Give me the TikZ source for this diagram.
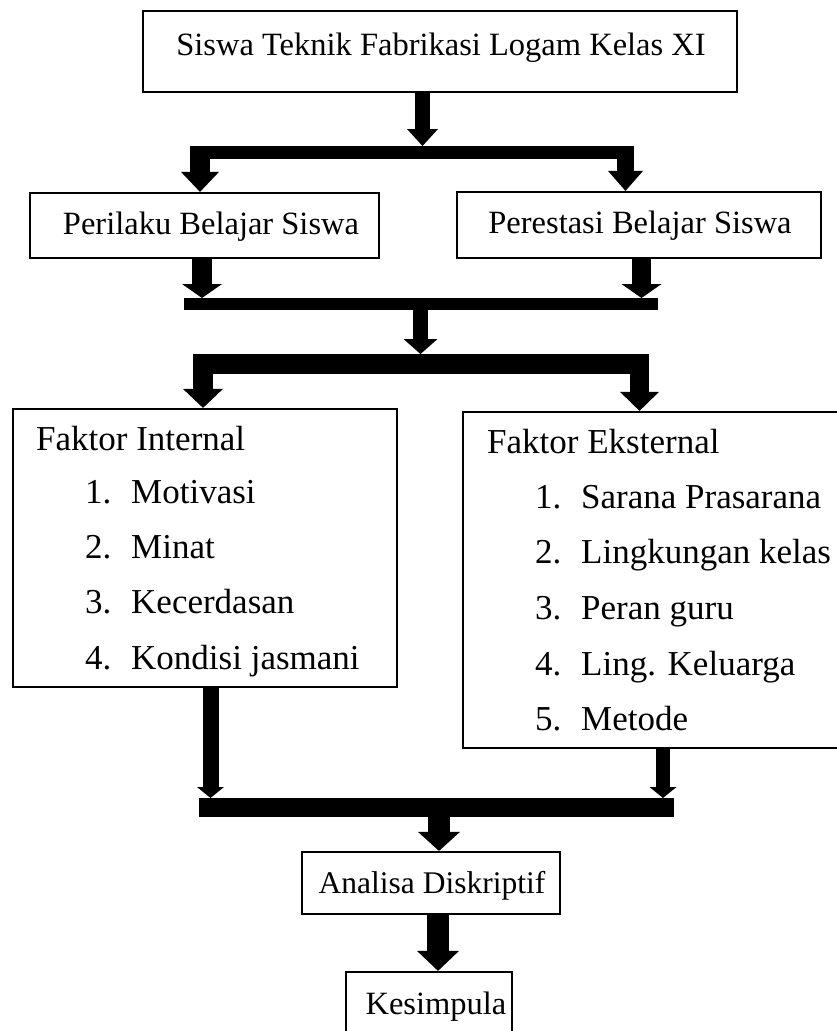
\documentclass[tikz,border=0pt]{standalone}
\usepackage{fontspec}
\setmainfont{Liberation Serif}
\usetikzlibrary{arrows.meta}
\newcommand{\itemnum}[1]{\makebox[46pt][l]{#1}}
\begin{document}
\begin{tikzpicture}[x=1pt,y=-1pt,
  box/.style={draw,line width=2.2pt,inner sep=0pt},
  txt/.style={font=\fontsize{32.5}{39}\selectfont,inner sep=0pt,anchor=base},
  ltxt/.style={font=\fontsize{35}{41}\selectfont,inner sep=0pt,anchor=base west},
  bar/.style={line width=#1},
  arr/.style n args={3}{line width=#1,-{Triangle[width=#2,length=#3,line width=0pt]}}]
\useasboundingbox (0,0) rectangle (836,1031);
% boxes
\node[box,minimum width=594pt,minimum height=81pt] (top) at (440,51.5) {};
\node[txt] (toptxt) at (441,55) {Siswa Teknik Fabrikasi Logam Kelas XI};
\node[box,minimum width=349pt,minimum height=65pt] (pb) at (204.5,225.5) {};
\node[txt] (pbtxt) at (211,234) {Perilaku Belajar Siswa};
\node[box,minimum width=364pt,minimum height=66pt] (ps) at (639,225) {};
\node[txt] (pstxt) at (640,233) {Perestasi Belajar Siswa};
\node[box,minimum width=384pt,minimum height=278pt] (fi) at (205,548) {};
\node[box,minimum width=382pt,minimum height=336pt] (fe) at (654,580) {};
\node[box,minimum width=258pt,minimum height=62pt] (ad) at (431,883) {};
\node[txt,font=\fontsize{31.5}{38}\selectfont] (adtxt) at (432,893) {Analisa Diskriptif};
\node[box,minimum width=166pt,minimum height=80pt] (ks) at (429,1012) {};
\node[txt] (kstxt) at (436,1014) {Kesimpula};
% list texts
\node[ltxt] (fih) at (36,450) {Faktor Internal};
\node[ltxt] (fi1) at (85,503) {\itemnum{1.}Motivasi};
\node[ltxt] (fi2) at (85,558) {\itemnum{2.}Minat};
\node[ltxt] (fi3) at (85,613) {\itemnum{3.}Kecerdasan};
\node[ltxt] (fi4) at (85,669) {\itemnum{4.}Kondisi jasmani};
\node[ltxt] (feh) at (487,453) {Faktor Eksternal};
\node[ltxt] (fe1) at (535,508) {\itemnum{1.}Sarana Prasarana};
\node[ltxt] (fe2) at (535,563) {\itemnum{2.}Lingkungan kelas};
\node[ltxt] (fe3) at (535,619) {\itemnum{3.}Peran guru};
\node[ltxt] (fe4) at (535,675) {\itemnum{4.}Ling. Keluarga};
\node[ltxt] (fe5) at (535,730) {\itemnum{5.}Metode};
% connectors
\coordinate (b1L) at (190,152.5);
\coordinate (b1R) at (634,152.5);
\coordinate (b2L) at (184,304);
\coordinate (b2R) at (658,304);
\coordinate (b3L) at (193,364);
\coordinate (b3R) at (649,364);
\coordinate (b4L) at (199,807.5);
\coordinate (b4R) at (674,807.5);
\draw[arr={15pt}{31pt}{17pt}] (top.south -| 422.5,0) -- (422.5,146);
\draw[bar=13pt] (b1L) -- (b1R);
\draw[arr={20pt}{38pt}{20pt}] (200,146) -- (pb.north -| 200,0);
\draw[arr={17pt}{35pt}{20pt}] (625.5,146) -- (ps.north -| 625.5,0);
\draw[arr={20pt}{40pt}{14pt}] (pb.south -| 202,0) -- (202,298);
\draw[arr={19pt}{40pt}{14pt}] (ps.south -| 641.5,0) -- (641.5,298);
\draw[bar=12pt] (b2L) -- (b2R);
\draw[arr={15pt}{34pt}{15pt}] (420.5,310) -- (420.5,354);
\draw[bar=20pt] (b3L) -- (b3R);
\draw[arr={20pt}{40pt}{19pt}] (203,354) -- (fi.north -| 203,0);
\draw[arr={19pt}{39pt}{19pt}] (639.5,354) -- (fe.north -| 639.5,0);
\draw[arr={16pt}{27pt}{11pt}] (fi.south -| 210.5,0) -- (210.5,798);
\draw[arr={14pt}{27pt}{11pt}] (fe.south -| 663,0) -- (663,798);
\draw[bar=19pt] (b4L) -- (b4R);
\draw[arr={22pt}{42pt}{19pt}] (439,817) -- (ad.north -| 439,0);
\draw[arr={22pt}{42pt}{20pt}] (ad.south -| 438,0) -- (ks.north -| 438,0);
\end{tikzpicture}
\end{document}
